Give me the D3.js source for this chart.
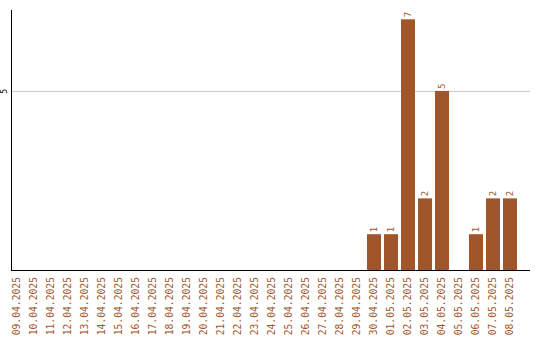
<!DOCTYPE html>
<html><head><meta charset="utf-8">
<script src="https://cdn.jsdelivr.net/npm/d3@7/dist/d3.min.js"></script>
<style>body{margin:0;background:#fff}svg{display:block}</style>
</head><body>
<svg id="c" width="540" height="340"></svg>
<script>
const categories = ["09.04.2025","10.04.2025","11.04.2025","12.04.2025","13.04.2025","14.04.2025","15.04.2025","16.04.2025","17.04.2025","18.04.2025","19.04.2025","20.04.2025","21.04.2025","22.04.2025","23.04.2025","24.04.2025","25.04.2025","26.04.2025","27.04.2025","28.04.2025","29.04.2025","30.04.2025","01.05.2025","02.05.2025","03.05.2025","04.05.2025","05.05.2025","06.05.2025","07.05.2025","08.05.2025"];
const values = [0,0,0,0,0,0,0,0,0,0,0,0,0,0,0,0,0,0,0,0,0,1,1,7,2,5,0,1,2,2];
const yTicks = [5];

const svg = d3.select("#c");
const color = "#a0562a";
const x = d3.scaleBand().domain(categories).range([8.5, 518.5]).paddingInner(3/17).paddingOuter(1.5/17);
const y = d3.scaleLinear().domain([0, 7.26]).range([270, 10]);

// gridlines
svg.append("g").selectAll("line").data(yTicks).join("line")
  .attr("x1", 11).attr("x2", 530).attr("y1", d => y(d) + 0.5).attr("y2", d => y(d) + 0.5)
  .attr("stroke", "#c8c8c8").attr("stroke-width", 1);

// bars
svg.append("g").selectAll("rect").data(categories.map((c,i)=>({c, v: values[i]})).filter(d=>d.v>0)).join("rect")
  .attr("x", d => x(d.c)).attr("width", x.bandwidth())
  .attr("y", d => y(d.v)).attr("height", d => y(0) - y(d.v))
  .attr("fill", color);

// value labels
svg.append("g").selectAll("text").data(categories.map((c,i)=>({c, v: values[i]})).filter(d=>d.v>0)).join("text")
  .attr("transform", d => `translate(${x(d.c) + x.bandwidth()/2 + 3},${y(d.v) - 2}) rotate(-90)`)
  .attr("font-family", "DejaVu Sans Mono, monospace").attr("font-size", 9)
  .attr("fill", color).text(d => d.v);

// axes
const xAxis = d3.axisBottom(x).tickSize(0).tickPadding(0);
const gx = svg.append("g").attr("transform", "translate(0,270)").call(xAxis);
gx.select(".domain").remove();
gx.selectAll("text")
  .attr("transform", "rotate(-90)").attr("text-anchor", "end")
  .attr("x", -7).attr("y", 0).attr("dy", "0.35em")
  .attr("font-family", "DejaVu Sans Mono, monospace").attr("font-size", 9.7)
  .attr("fill", color);
svg.append("line").attr("x1", 11).attr("x2", 530).attr("y1", 270.5).attr("y2", 270.5).attr("stroke", "#000");
svg.append("line").attr("x1", 11.5).attr("x2", 11.5).attr("y1", 10).attr("y2", 271).attr("stroke", "#000");

const yAxis = d3.axisLeft(y).tickValues(yTicks).tickSize(0).tickFormat(d3.format("d"));
const gy = svg.append("g").attr("transform", "translate(11,0)").call(yAxis);
gy.select(".domain").remove();
gy.selectAll("text").attr("transform", "rotate(-90)").attr("text-anchor", "middle")
  .attr("x", 0).attr("y", -4).attr("dy", 0)
  .attr("font-family", "DejaVu Sans Mono, monospace").attr("font-size", 8).attr("fill", "#000");
</script>
</body></html>
